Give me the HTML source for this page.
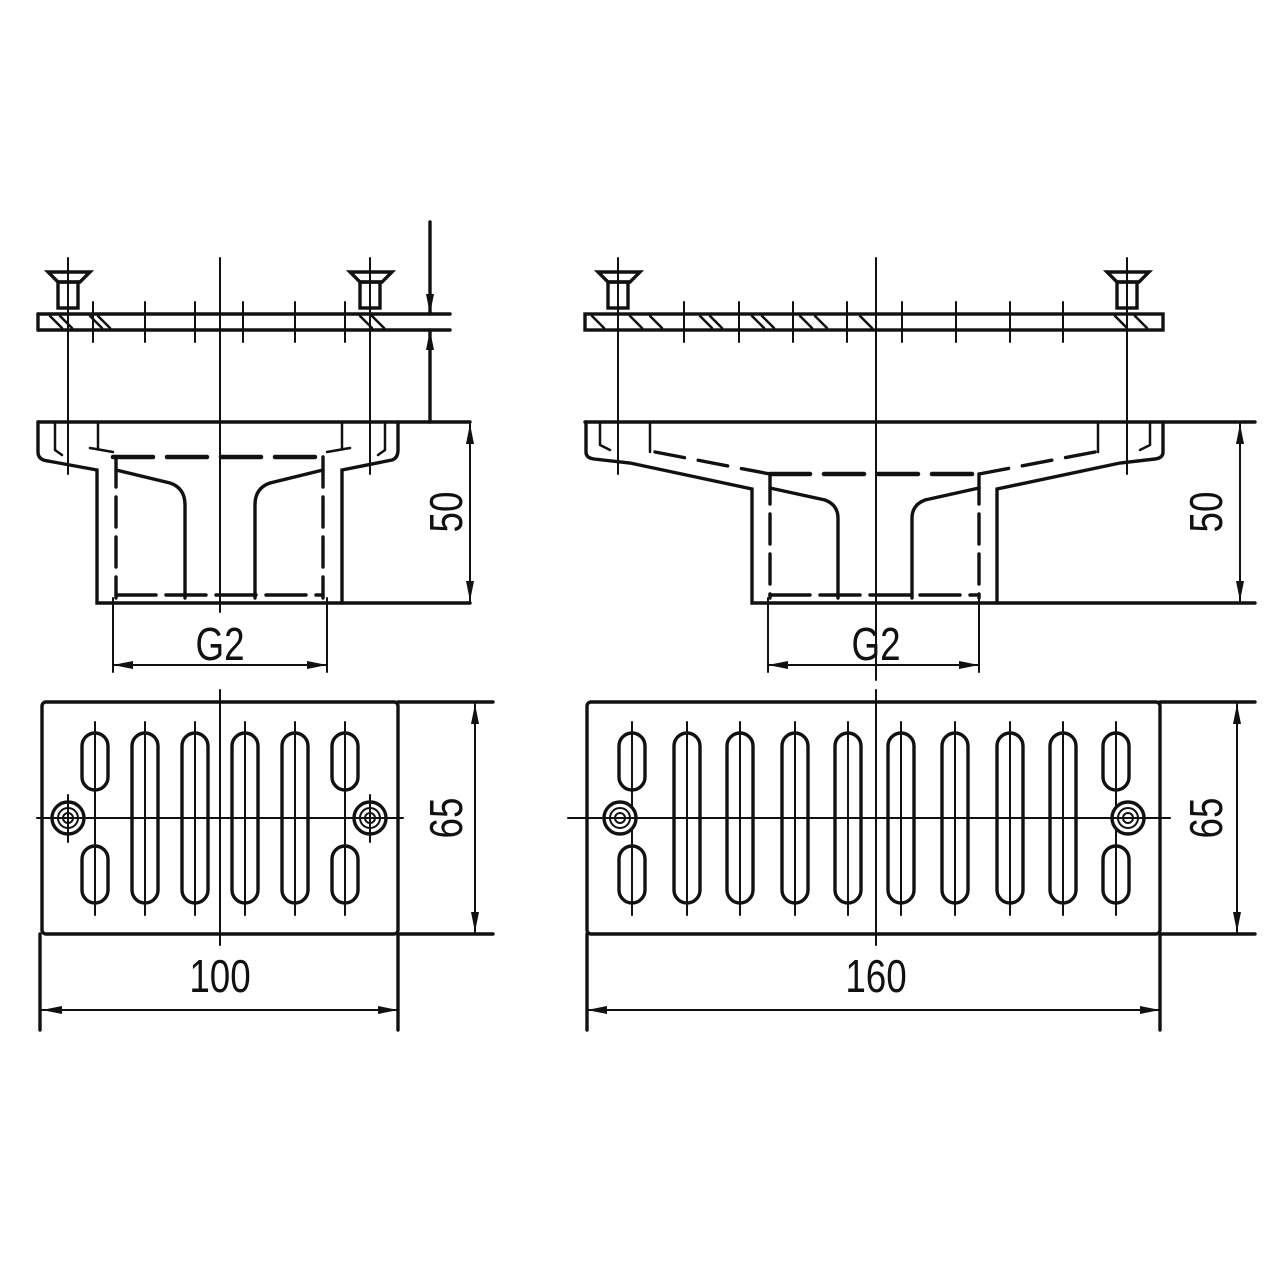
<!DOCTYPE html>
<html><head><meta charset="utf-8"><style>html,body{margin:0;padding:0;background:#fff}svg{display:block}</style></head>
<body>
<svg width="1280" height="1280" viewBox="0 0 1280 1280" xmlns="http://www.w3.org/2000/svg" font-family="Liberation Sans, sans-serif">
<defs>
<marker id="a" viewBox="0 0 20 8" refX="20" refY="4" markerWidth="20" markerHeight="8" markerUnits="userSpaceOnUse" orient="auto-start-reverse"><path d="M0,0 L20,4 L0,8 Z" fill="#111"/></marker>
</defs>
<g stroke="#111" stroke-width="3.4" fill="none" stroke-linecap="round">
<!-- ===== LEFT TOP VIEW ===== -->
<line x1="38" y1="314" x2="450" y2="314"/>
<line x1="38" y1="330" x2="450" y2="330"/>
<line x1="38" y1="314" x2="38" y2="330"/>
<g stroke-width="2.5">
<line x1="50" y1="316" x2="62" y2="328"/><line x1="60" y1="316" x2="72" y2="328"/><line x1="90" y1="316" x2="102" y2="328"/><line x1="98" y1="316" x2="110" y2="328"/>
<line x1="360" y1="316" x2="372" y2="328"/><line x1="372" y1="316" x2="384" y2="328"/>
</g>
<g stroke-width="2">
<line x1="93" y1="302" x2="93" y2="342"/><line x1="145" y1="302" x2="145" y2="342"/><line x1="195" y1="302" x2="195" y2="342"/><line x1="243" y1="302" x2="243" y2="342"/><line x1="295" y1="302" x2="295" y2="342"/><line x1="345" y1="302" x2="345" y2="342"/>
<line x1="220" y1="258" x2="220" y2="612"/>
<line x1="68" y1="258" x2="68" y2="474"/><line x1="370" y1="258" x2="370" y2="474"/>
</g>
<path d="M48,272 L90,272 L80,282 L58,282 Z"/><rect x="58" y="282" width="20" height="26"/>
<path d="M350,272 L392,272 L382,282 L360,282 Z"/><rect x="360" y="282" width="20" height="26"/>
<line x1="430" y1="222" x2="430" y2="314" marker-end="url(#a)"/>
<line x1="430" y1="422" x2="430" y2="330" marker-end="url(#a)"/>
<line x1="38" y1="422" x2="470" y2="422"/>
<path d="M38,422 L38,452 Q38,460 48,461 L97,470 L97,603 L470,603"/>
<path d="M342,603 L342,470 L392,460 Q398,458 398,450 L398,422"/>
<path d="M98,422 L98,448 M90,448 L113,452 M342,422 L342,448 M350,448 L327,452" stroke-width="2.5"/>
<path d="M55,422 L55,450 L62,455 M385,422 L385,450 L378,455" stroke-width="2.5"/>
<line x1="113" y1="457" x2="327" y2="457" stroke-width="4.5" stroke-dasharray="40,14"/>
<line x1="116" y1="457" x2="116" y2="598" stroke-dasharray="30,10"/>
<line x1="323" y1="457" x2="323" y2="598" stroke-dasharray="30,10"/>
<line x1="116" y1="595" x2="323" y2="595" stroke-dasharray="40,10"/>
<path d="M116,470 L170,483 Q185,488 185,505 L185,598"/>
<path d="M323,470 L270,483 Q255,488 255,505 L255,598"/>
<g stroke-width="2"><line x1="113" y1="598" x2="113" y2="672"/><line x1="327" y1="598" x2="327" y2="672"/></g>
<line x1="220" y1="665" x2="113" y2="665" stroke-width="2" marker-end="url(#a)"/>
<line x1="220" y1="665" x2="327" y2="665" stroke-width="2" marker-end="url(#a)"/>
<line x1="470" y1="512" x2="470" y2="424" stroke-width="2" marker-end="url(#a)"/>
<line x1="470" y1="512" x2="470" y2="601" stroke-width="2" marker-end="url(#a)"/>

<!-- ===== RIGHT TOP VIEW ===== -->
<rect x="585" y="314" width="578" height="16"/>
<g stroke-width="2.5">
<line x1="592" y1="316" x2="604" y2="328"/><line x1="630" y1="316" x2="642" y2="328"/><line x1="650" y1="316" x2="662" y2="328"/><line x1="700" y1="316" x2="712" y2="328"/><line x1="710" y1="316" x2="722" y2="328"/><line x1="752" y1="316" x2="764" y2="328"/><line x1="762" y1="316" x2="774" y2="328"/><line x1="800" y1="316" x2="812" y2="328"/><line x1="815" y1="316" x2="827" y2="328"/><line x1="860" y1="316" x2="872" y2="328"/>
<line x1="1115" y1="316" x2="1127" y2="328"/><line x1="1135" y1="316" x2="1147" y2="328"/>
</g>
<g stroke-width="2">
<line x1="684" y1="302" x2="684" y2="342"/><line x1="739" y1="302" x2="739" y2="342"/><line x1="793" y1="302" x2="793" y2="342"/><line x1="847" y1="302" x2="847" y2="342"/><line x1="902" y1="302" x2="902" y2="342"/><line x1="956" y1="302" x2="956" y2="342"/><line x1="1010" y1="302" x2="1010" y2="342"/><line x1="1063" y1="302" x2="1063" y2="342"/>
<line x1="876" y1="258" x2="876" y2="680"/>
<line x1="618" y1="258" x2="618" y2="474"/><line x1="1127" y1="258" x2="1127" y2="474"/>
</g>
<path d="M598,272 L640,272 L630,282 L608,282 Z"/><rect x="608" y="282" width="20" height="26"/>
<path d="M1107,272 L1149,272 L1139,282 L1117,282 Z"/><rect x="1117" y="282" width="20" height="26"/>
<line x1="585" y1="422" x2="1255" y2="422"/>
<path d="M586,422 L586,452 Q586,458 594,459 L630,463 L752,489 L752,603 L1255,603"/>
<path d="M997,603 L997,489 L1120,463 L1155,459 Q1163,458 1163,452 L1163,422"/>
<path d="M650,422 L650,452 M1098,422 L1098,452 M600,422 L600,445 L610,450 M1150,422 L1150,445 L1140,450" stroke-width="2.5"/>
<line x1="655" y1="452" x2="770" y2="474" stroke-dasharray="30,14"/>
<line x1="1095" y1="452" x2="979" y2="474" stroke-dasharray="30,14"/>
<line x1="770" y1="474" x2="979" y2="474" stroke-width="4.5" stroke-dasharray="40,14"/>
<line x1="770" y1="474" x2="770" y2="598" stroke-dasharray="30,10"/>
<line x1="979" y1="474" x2="979" y2="598" stroke-dasharray="30,10"/>
<line x1="770" y1="595" x2="979" y2="595" stroke-dasharray="40,10"/>
<path d="M770,488 L825,500 Q838,505 838,518 L838,598"/>
<path d="M979,488 L925,500 Q912,505 912,518 L912,598"/>
<g stroke-width="2"><line x1="768" y1="598" x2="768" y2="672"/><line x1="979" y1="598" x2="979" y2="672"/></g>
<line x1="876" y1="665" x2="768" y2="665" stroke-width="2" marker-end="url(#a)"/>
<line x1="876" y1="665" x2="979" y2="665" stroke-width="2" marker-end="url(#a)"/>
<line x1="1240" y1="512" x2="1240" y2="424" stroke-width="2" marker-end="url(#a)"/>
<line x1="1240" y1="512" x2="1240" y2="601" stroke-width="2" marker-end="url(#a)"/>

<!-- ===== LEFT BOTTOM VIEW ===== -->
<rect x="42" y="702" width="356" height="232" rx="4"/>
<line x1="398" y1="702" x2="493" y2="702"/><line x1="398" y1="934" x2="493" y2="934"/>
<line x1="40" y1="934" x2="40" y2="1030"/><line x1="398" y1="934" x2="398" y2="1030"/>
<line x1="220" y1="1010" x2="42" y2="1010" stroke-width="2" marker-end="url(#a)"/>
<line x1="220" y1="1010" x2="398" y2="1010" stroke-width="2" marker-end="url(#a)"/>
<line x1="475" y1="818" x2="475" y2="704" stroke-width="2" marker-end="url(#a)"/>
<line x1="475" y1="818" x2="475" y2="932" stroke-width="2" marker-end="url(#a)"/>
<g stroke-width="2"><line x1="37" y1="818" x2="403" y2="818"/><line x1="220" y1="690" x2="220" y2="945"/>
<line x1="95" y1="722" x2="95" y2="915"/><line x1="145" y1="722" x2="145" y2="915"/><line x1="195" y1="722" x2="195" y2="915"/><line x1="245" y1="722" x2="245" y2="915"/><line x1="295" y1="722" x2="295" y2="915"/><line x1="345" y1="722" x2="345" y2="915"/>
<line x1="68" y1="795" x2="68" y2="842"/><line x1="370" y1="795" x2="370" y2="842"/></g>
<rect x="82" y="733" width="26" height="57" rx="13"/><rect x="82" y="846" width="26" height="57" rx="13"/>
<rect x="332" y="733" width="26" height="57" rx="13"/><rect x="332" y="846" width="26" height="57" rx="13"/>
<rect x="132" y="733" width="26" height="170" rx="13"/><rect x="182" y="733" width="26" height="170" rx="13"/><rect x="232" y="733" width="26" height="170" rx="13"/><rect x="282" y="733" width="26" height="170" rx="13"/>
<circle cx="68" cy="818" r="16"/><circle cx="68" cy="818" r="10" stroke-width="2"/><circle cx="68" cy="818" r="5" stroke-width="2"/>
<circle cx="370" cy="818" r="16"/><circle cx="370" cy="818" r="10" stroke-width="2"/><circle cx="370" cy="818" r="5" stroke-width="2"/>

<!-- ===== RIGHT BOTTOM VIEW ===== -->
<rect x="587" y="702" width="573" height="232" rx="4"/>
<line x1="1160" y1="702" x2="1255" y2="702"/><line x1="1160" y1="934" x2="1255" y2="934"/>
<line x1="587" y1="934" x2="587" y2="1030"/><line x1="1160" y1="934" x2="1160" y2="1030"/>
<line x1="876" y1="1010" x2="587" y2="1010" stroke-width="2" marker-end="url(#a)"/>
<line x1="876" y1="1010" x2="1160" y2="1010" stroke-width="2" marker-end="url(#a)"/>
<line x1="1237" y1="818" x2="1237" y2="704" stroke-width="2" marker-end="url(#a)"/>
<line x1="1237" y1="818" x2="1237" y2="932" stroke-width="2" marker-end="url(#a)"/>
<g stroke-width="2"><line x1="568" y1="818" x2="1170" y2="818"/><line x1="876" y1="690" x2="876" y2="945"/>
<line x1="632" y1="722" x2="632" y2="915"/><line x1="687" y1="722" x2="687" y2="915"/><line x1="740" y1="722" x2="740" y2="915"/><line x1="795" y1="722" x2="795" y2="915"/><line x1="848" y1="722" x2="848" y2="915"/><line x1="901" y1="722" x2="901" y2="915"/><line x1="955" y1="722" x2="955" y2="915"/><line x1="1010" y1="722" x2="1010" y2="915"/><line x1="1063" y1="722" x2="1063" y2="915"/><line x1="1116" y1="722" x2="1116" y2="915"/></g>
<rect x="619" y="733" width="26" height="57" rx="13"/><rect x="619" y="846" width="26" height="57" rx="13"/>
<rect x="1103" y="733" width="26" height="57" rx="13"/><rect x="1103" y="846" width="26" height="57" rx="13"/>
<rect x="674" y="733" width="26" height="170" rx="13"/><rect x="727" y="733" width="26" height="170" rx="13"/><rect x="782" y="733" width="26" height="170" rx="13"/><rect x="835" y="733" width="26" height="170" rx="13"/><rect x="888" y="733" width="26" height="170" rx="13"/><rect x="942" y="733" width="26" height="170" rx="13"/><rect x="997" y="733" width="26" height="170" rx="13"/><rect x="1050" y="733" width="26" height="170" rx="13"/>
<circle cx="620" cy="818" r="16" fill="#fff"/><circle cx="620" cy="818" r="10" stroke-width="2"/><circle cx="620" cy="818" r="5" stroke-width="2"/>
<circle cx="1128" cy="818" r="16" fill="#fff"/><circle cx="1128" cy="818" r="10" stroke-width="2"/><circle cx="1128" cy="818" r="5" stroke-width="2"/>
<line x1="600" y1="818" x2="640" y2="818" stroke-width="2"/><line x1="1108" y1="818" x2="1148" y2="818" stroke-width="2"/>
</g>
<g fill="#111" font-size="46" text-anchor="middle">
<text transform="translate(220,660) scale(0.8,1)">G2</text>
<text transform="translate(876,660) scale(0.8,1)">G2</text>
<text transform="translate(220,992) scale(0.8,1)">100</text>
<text transform="translate(876,992) scale(0.8,1)">160</text>
<text transform="translate(462,512) rotate(-90) scale(0.8,1)">50</text>
<text transform="translate(1222,512) rotate(-90) scale(0.8,1)">50</text>
<text transform="translate(462,818) rotate(-90) scale(0.8,1)">65</text>
<text transform="translate(1222,818) rotate(-90) scale(0.8,1)">65</text>
</g>
</svg>
</body></html>
